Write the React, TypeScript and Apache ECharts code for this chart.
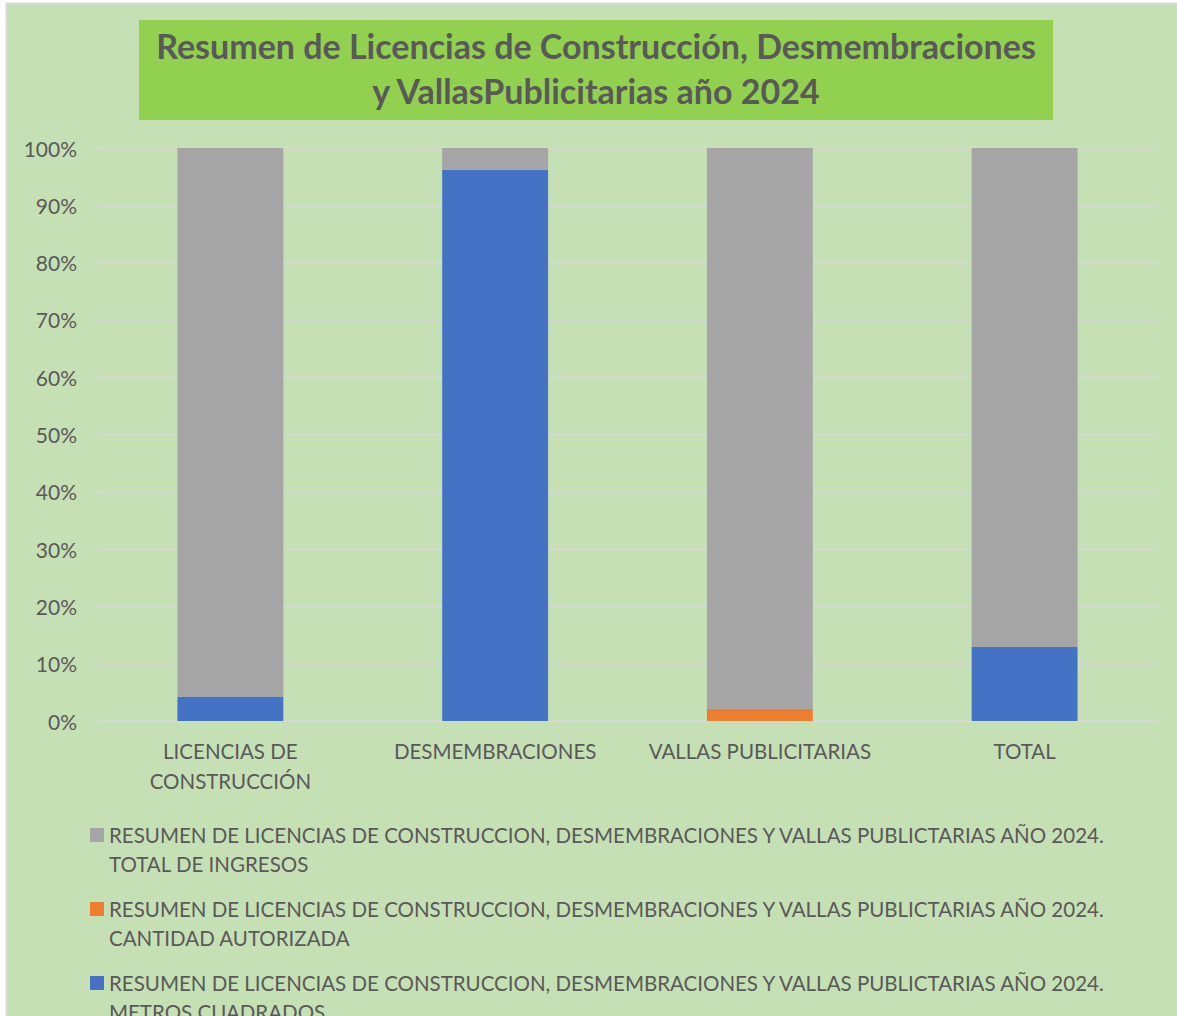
import React, { useEffect, useRef } from "react";
import * as echarts from "echarts";

const categories = ["LICENCIAS DE\nCONSTRUCCIÓN", "DESMEMBRACIONES", "VALLAS PUBLICITARIAS", "TOTAL"];
const seriesNames = [
  "RESUMEN DE LICENCIAS DE CONSTRUCCION, DESMEMBRACIONES Y VALLAS PUBLICTARIAS AÑO 2024. METROS CUADRADOS",
  "RESUMEN DE LICENCIAS DE CONSTRUCCION, DESMEMBRACIONES Y VALLAS PUBLICTARIAS AÑO 2024. CANTIDAD AUTORIZADA",
  "RESUMEN DE LICENCIAS DE CONSTRUCCION, DESMEMBRACIONES Y VALLAS PUBLICTARIAS AÑO 2024. TOTAL DE INGRESOS",
];
// percentage shares (100% stacked)
const metrosCuadrados = [4.2, 96.2, 0, 12.9];
const cantidadAutorizada = [0, 0, 2.1, 0];
const totalIngresos = [95.8, 3.8, 97.9, 87.1];
const seriesColors = ["#4472C4", "#ED7D31", "#A5A5A5"];
const titleText = "Resumen de Licencias de Construcción, Desmembraciones\ny VallasPublicitarias año 2024";

const FONT = "Lato";
const TXT = "#595959";

export default function App() {
  const ref = useRef<HTMLDivElement>(null);
  useEffect(() => {
    if (!ref.current) return;
    const chart = echarts.init(ref.current, null, { renderer: "svg" });
    const values = [metrosCuadrados, cantidadAutorizada, totalIngresos];
    const L = 29;
    const legendCenters = [835, 909, 983];
    const legendOrder = [2, 1, 0];
    chart.setOption({
      animation: false,
      backgroundColor: "#FFFFFF",
      graphic: [
        {
          type: "rect",
          z: -10,
          shape: { x: 6.5, y: 3.5, width: 1180, height: 1020 },
          style: { fill: "#C5E0B4", stroke: "#D9D9D9", lineWidth: 2 },
        },
        {
          type: "rect",
          z: -9,
          shape: { x: 139, y: 20, width: 914, height: 100 },
          style: { fill: "#92D050" },
        },
      ],
      title: {
        text: titleText,
        left: 596,
        top: 23,
        textAlign: "center",
        padding: 0,
        textStyle: {
          fontFamily: FONT,
          fontWeight: "bold",
          fontSize: 34,
          lineHeight: 45,
          color: TXT,
        },
      },
      legend: legendOrder.map((si, k) => ({
        data: [seriesNames[si]],
        orient: "vertical",
        left: 90,
        top: legendCenters[k] - 1.5 * L,
        padding: 0,
        itemWidth: 14,
        itemHeight: 14,
        icon: "rect",
        selectedMode: false,
        formatter: (n: string) => "\n" + n.replace(". ", ".\n"),
        textStyle: {
          fontFamily: FONT,
          fontSize: 20.5,
          lineHeight: L,
          color: TXT,
        },
      })),
      grid: { left: 98, right: 20, top: 148, bottom: 295, containLabel: false },
      xAxis: {
        type: "category",
        data: categories,
        axisLine: { lineStyle: { color: "#D9D9D9", width: 1.5 } },
        axisTick: { show: false },
        axisLabel: {
          color: TXT,
          fontFamily: FONT,
          fontSize: 20.5,
          lineHeight: 30,
          margin: 15,
          interval: 0,
        },
      },
      yAxis: {
        type: "value",
        min: 0,
        max: 100,
        interval: 10,
        axisLine: { show: false },
        axisTick: { show: false },
        splitLine: { lineStyle: { color: "#D9D9D9", width: 1.5 } },
        axisLabel: {
          color: TXT,
          fontFamily: FONT,
          fontSize: 21,
          margin: 21,
          formatter: "{value}%",
        },
      },
      series: values.map((v, i) => ({
        name: seriesNames[i],
        type: "bar",
        stack: "total",
        barWidth: "40%",
        data: v,
        itemStyle: { color: seriesColors[i] },
      })),
    });
    return () => chart.dispose();
  }, []);
  return (
    <div
      ref={ref}
      style={{ position: "absolute", left: 0, top: 0, width: 1177, height: 1016 }}
    />
  );
}
